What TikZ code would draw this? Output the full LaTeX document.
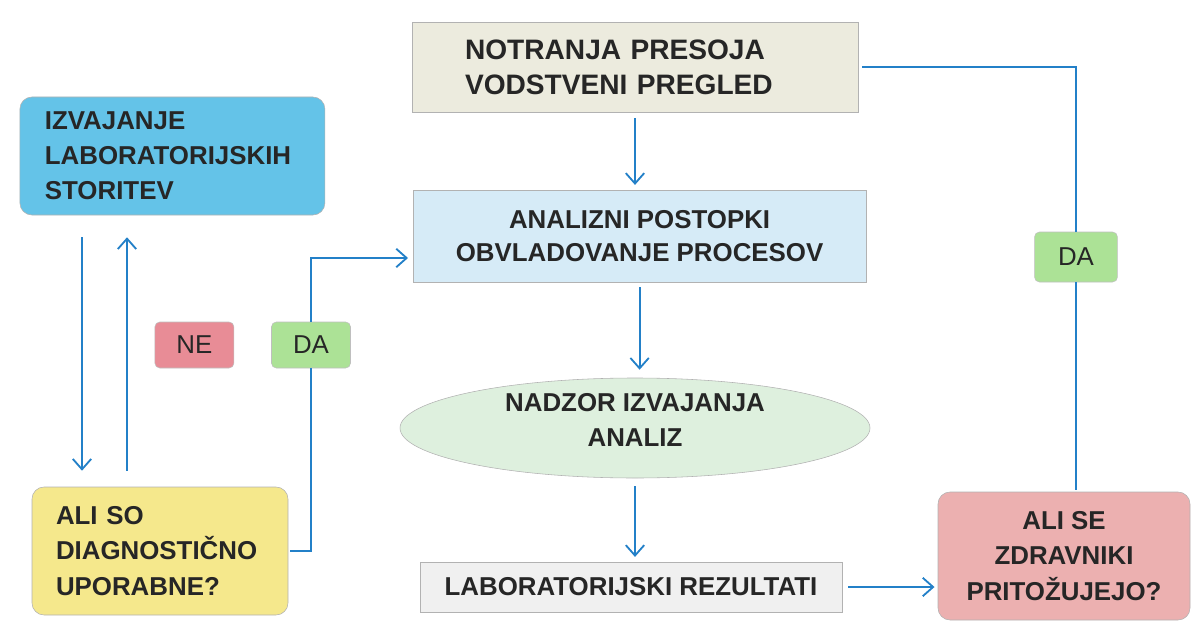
\documentclass[tikz,border=0pt]{standalone}
\usepackage{fontspec}
\setmainfont{Liberation Sans}
\usetikzlibrary{positioning,arrows.meta,calc,shapes.geometric}
\definecolor{linkblue}{RGB}{35,128,200}
\definecolor{auditbeige}{RGB}{236,235,222}
\definecolor{servicecyan}{RGB}{100,195,232}
\definecolor{processblue}{RGB}{214,235,247}
\definecolor{controlgreen}{RGB}{222,240,222}
\definecolor{resultgray}{RGB}{240,240,240}
\definecolor{askyellow}{RGB}{245,232,140}
\definecolor{askpink}{RGB}{236,176,176}
\definecolor{nored}{RGB}{232,140,150}
\definecolor{yesgreen}{RGB}{172,226,150}

\begin{document}
\begin{tikzpicture}[
    box/.style={rectangle, draw=black!30, text=black!85, align=center, inner sep=0pt, font=\bfseries\fontsize{18.4}{25}\selectfont},
    roundbox/.style={box, rounded corners=0.3cm},
    tag/.style={rectangle, rounded corners=0.12cm, draw=black!25, text=black!85, minimum width=1.975cm, minimum height=1.15cm, inner sep=0pt, font=\fontsize{18.4}{22}\selectfont},
    link/.style={linkblue, line width=1.3pt},
    arrow/.style={link, -{Straight Barb[length=2.6mm,width=4.6mm]}}
]
\useasboundingbox (0,0) rectangle (29.9,-15.675);

\node[box, fill=auditbeige, minimum width=11.15cm, minimum height=2.25cm, text width=8.5cm, align=left, font=\bfseries\fontsize{20}{25}\selectfont] (notranja) at (15.875,-1.675) {NOTRANJA PRESOJA\\VODSTVENI PREGLED};
\node[roundbox, fill=servicecyan, minimum width=7.625cm, minimum height=2.95cm, text width=6.375cm, align=left] (izvajanje) at (4.31,-3.9) {IZVAJANJE\\LABORATORIJSKIH\\STORITEV};
\node[box, fill=processblue, minimum width=11.325cm, minimum height=2.3cm, font=\bfseries\fontsize{18.4}{23.4}\selectfont] (analizni) at (15.99,-5.9) {ANALIZNI POSTOPKI\\OBVLADOVANJE PROCESOV};
\node[box, ellipse, fill=controlgreen, minimum width=11.75cm, minimum height=2.5cm, text depth=0.42cm] (nadzor) at (15.875,-10.7) {NADZOR IZVAJANJA\\ANALIZ};
\node[box, fill=resultgray, minimum width=10.55cm, minimum height=1.25cm] (rezultati) at (15.775,-14.675) {LABORATORIJSKI REZULTATI};
\node[roundbox, fill=askyellow, minimum width=6.4cm, minimum height=3.2cm, text width=5.2cm, align=left] (aliso) at (4.0,-13.775) {ALI SO\\DIAGNOSTIČNO\\UPORABNE?};
\node[roundbox, fill=askpink, minimum width=6.3cm, minimum height=3.2cm] (alise) at (26.6,-13.9) {ALI SE\\ZDRAVNIKI\\PRITOŽUJEJO?};

\node[tag, fill=nored] (ne) at (4.86,-8.625) {NE};
\node[tag, fill=yesgreen] (dal) at (7.775,-8.625) {DA};
\node[tag, fill=yesgreen, minimum width=2.07cm, minimum height=1.25cm] (dar) at (26.9,-6.425) {DA};

\draw[arrow, shorten <=0.15cm, shorten >=0.12cm] (notranja.south) -- (notranja.south |- analizni.north);
\draw[arrow, shorten <=0.12cm, shorten >=0.2cm] (analizni.south) -- (analizni.south |- nadzor.north);
\draw[arrow, shorten <=0.2cm, shorten >=0.12cm] (nadzor.south) -- (nadzor.south |- rezultati.north);
\draw[arrow, shorten <=0.15cm, shorten >=0.08cm] (rezultati.east) -- (rezultati.east -| alise.west);
\draw[link, shorten <=0.05cm] (alise.north -| dar.center) -- (dar.south);
\draw[link, shorten >=0.1cm] (dar.north) |- (notranja.east);
\draw[arrow, shorten <=0.55cm, shorten >=0.4cm] ([xshift=-2.26cm]izvajanje.south) -- ([xshift=-2.26cm]izvajanje.south |- aliso.north);
\draw[arrow, shorten <=0.4cm, shorten >=0.55cm] ([xshift=-1.135cm]izvajanje.south |- aliso.north) -- ([xshift=-1.135cm]izvajanje.south);
\draw[link, shorten <=0.05cm] (aliso.east) -| (dal.south);
\draw[arrow, shorten >=0.12cm] (dal.north) |- ([yshift=-0.55cm]analizni.west);
\end{tikzpicture}
\end{document}
